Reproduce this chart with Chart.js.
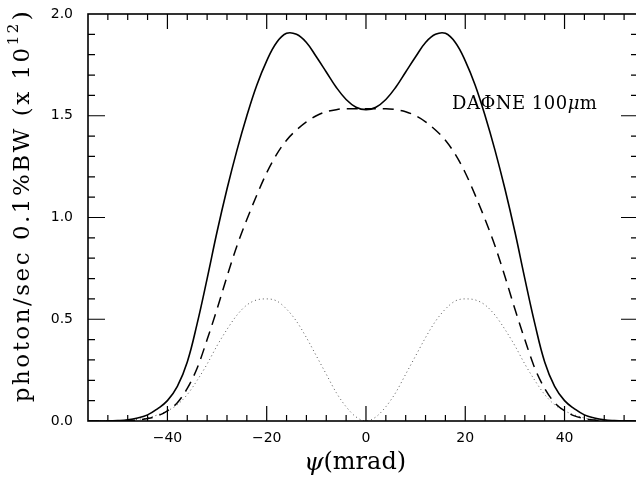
<!DOCTYPE html>
<html>
<head>
<meta charset="utf-8">
<script src="https://cdn.jsdelivr.net/npm/chart.js@4.4.1/dist/chart.umd.min.js"></script>
<style>
html,body{margin:0;padding:0;background:#fff;overflow:hidden;}
#wrap{width:642px;height:485px;}
</style>
</head>
<body>
<div id="wrap"><canvas id="c" width="642" height="485"></canvas></div>
<script>
// ---- data ----
const psi = [-56,-54,-52,-50,-48,-46,-44,-42,-40,-38,-36,-34,-32,-30,-28,-26,-24,-22,-20,-18,-16,-14,-12,-10,-8,-6,-4,-2,0,
             2,4,6,8,10,12,14,16,18,20,22,24,26,28,30,32,34,36,38,40,42,44,46,48,50,52,54,56];
// values for psi = -56 ... 0 (the curves are symmetric about psi = 0)
const totalHalf = [0,0,0,0.002,0.006,0.015,0.03,0.06,0.1,0.17,0.29,0.48,0.7,0.93,1.14,1.33,1.5,1.65,1.77,1.86,1.905,1.9,1.86,1.79,1.715,1.64,1.58,1.542,1.53];
const parHalf   = [0,0,0,0,0.001,0.005,0.012,0.025,0.05,0.09,0.16,0.26,0.4,0.55,0.71,0.86,0.99,1.11,1.22,1.31,1.38,1.43,1.47,1.5,1.52,1.53,1.535,1.535,1.535];
const perpHalf  = [0,0,0,0.001,0.003,0.008,0.015,0.03,0.05,0.08,0.13,0.2,0.28,0.37,0.45,0.52,0.57,0.595,0.60,0.59,0.55,0.49,0.41,0.32,0.23,0.14,0.07,0.02,0];
const xTickLabels = [-40,-20,0,20,40];
const yTickLabels = [0.0,0.5,1.0,1.5,2.0];
const annotation = "DA\u03A6NE 100";

function mirror(h){ const r = h.slice(); for(let i=h.length-2;i>=0;i--) r.push(h[i]); return r; }
const totalVals = mirror(totalHalf);
const parVals = mirror(parHalf);
const perpVals = mirror(perpHalf);
const pts = v => psi.map((x,i)=>({x:x,y:v[i]}));

const X_MIN=-56, X_MAX=54.8;

const framePlugin = {
  id:'frame',
  afterDraw(chart){
    const {ctx, chartArea:a, scales:{x,y}} = chart;
    ctx.save();
    ctx.strokeStyle='#000';
    ctx.lineWidth=1.6;
    ctx.strokeRect(a.left,a.top,a.right-a.left,a.bottom-a.top);
    ctx.lineWidth=1.2;
    ctx.beginPath();
    for(let v=-52; v<=X_MAX; v+=4){
      const px=x.getPixelForValue(v);
      const L = (v%20===0)?15:6;
      ctx.moveTo(px,a.bottom); ctx.lineTo(px,a.bottom-L);
      ctx.moveTo(px,a.top); ctx.lineTo(px,a.top+L);
    }
    for(let k=1;k<20;k++){
      const v=k/10;
      const py=y.getPixelForValue(v);
      const L = (k%5===0)?17:7;
      ctx.moveTo(a.left,py); ctx.lineTo(a.left+L,py);
      ctx.moveTo(a.right,py); ctx.lineTo(a.right-L,py);
    }
    ctx.stroke();
    // y title with superscript
    ctx.fillStyle='#000';
    ctx.translate(23, 206);
    ctx.rotate(-Math.PI/2);
    ctx.letterSpacing='2.5px';
    const f1='23px "DejaVu Serif"', f2='15px "DejaVu Serif"';
    const t1='photon/sec 0.1%BW (x 10', t2='12', t3=')';
    ctx.font=f1; const w1=ctx.measureText(t1).width, w3=ctx.measureText(t3).width;
    ctx.font=f2; const w2=ctx.measureText(t2).width;
    let sx=-(w1+w2+w3)/2;
    ctx.textBaseline='middle';
    ctx.font=f1; ctx.fillText(t1,sx,0); sx+=w1;
    ctx.font=f2; ctx.fillText(t2,sx,-9); sx+=w2+1;
    ctx.font=f1; ctx.fillText(t3,sx,0);
    ctx.restore();
    // x title
    ctx.save();
    ctx.fillStyle='#000';
    ctx.textBaseline='middle';
    ctx.font='italic 25px "DejaVu Serif"';
    const ta='\u03C8', tb='(mrad)';
    const wa=ctx.measureText(ta).width;
    ctx.font='24px "DejaVu Serif"';
    const wb=ctx.measureText(tb).width;
    let xx=355-(wa+wb)/2;
    ctx.font='italic 25px "DejaVu Serif"'; ctx.fillText(ta,xx,463);
    ctx.font='24px "DejaVu Serif"'; ctx.fillText(tb,xx+wa,463);
    // annotation
    ctx.letterSpacing='0.5px';
    ctx.font='18px "DejaVu Serif"';
    const wn=ctx.measureText(annotation).width;
    ctx.fillText(annotation,452,104);
    ctx.font='italic 18px "DejaVu Serif"';
    const wm=ctx.measureText('\u03BC').width;
    ctx.fillText('\u03BC',452+wn,104);
    ctx.font='18px "DejaVu Serif"';
    ctx.fillText('m',452+wn+wm,104);
    ctx.restore();
  }
};

new Chart(document.getElementById('c'), {
  type:'line',
  data:{
    datasets:[
      {label:'total', data:pts(totalVals), borderColor:'#000', borderWidth:1.6, pointRadius:0, fill:false, tension:0.4},
      {label:'parallel', data:pts(parVals), borderColor:'#000', borderWidth:1.5, borderDash:[11,7], pointRadius:0, fill:false, cubicInterpolationMode:'monotone'},
      {label:'perpendicular', data:pts(perpVals), borderColor:'#555', borderWidth:1, borderDash:[1,3], pointRadius:0, fill:false, cubicInterpolationMode:'monotone'}
    ]
  },
  options:{
    responsive:false,
    animation:false,
    layout:{padding:{top:14,right:4,left:0,bottom:0}},
    plugins:{legend:{display:false},tooltip:{enabled:false}},
    scales:{
      x:{type:'linear',min:X_MIN,max:X_MAX,
         grid:{display:false,drawTicks:false},border:{display:false},
         afterBuildTicks:s=>{s.ticks=xTickLabels.map(v=>({value:v}));},
         afterFit:s=>{s.height=64;},
         ticks:{padding:9,color:'#000',font:{family:'"DejaVu Sans"',size:14},callback:v=>String(v).replace('-','\u2212'),maxRotation:0}},
      y:{type:'linear',min:0,max:2,
         grid:{display:false,drawTicks:false},border:{display:false},
         afterBuildTicks:s=>{s.ticks=yTickLabels.map(v=>({value:v}));},
         afterFit:s=>{s.width=88; s.paddingTop=0; s.paddingBottom=0;},
         ticks:{padding:15,color:'#000',font:{family:'"DejaVu Sans"',size:14},callback:v=>Number(v).toFixed(1)}}
    }
  },
  plugins:[framePlugin]
});
</script>
</body>
</html>
